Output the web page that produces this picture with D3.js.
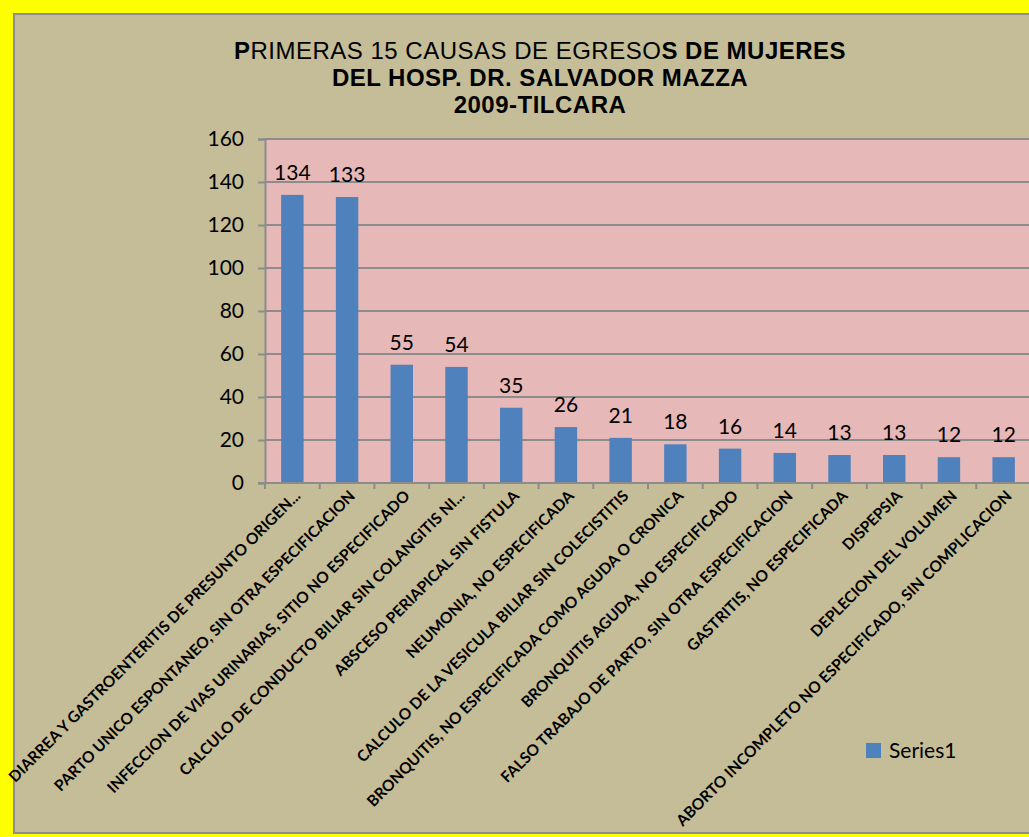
<!DOCTYPE html>
<html lang="es">
<head>
<meta charset="UTF-8">
<script src="https://d3js.org/d3.v7.min.js"></script>
<title>Primeras 15 causas de egresos de mujeres</title>
<style>
  body { margin: 0; }
  svg { display: block; }
</style>
</head>
<body>
<svg width="1029" height="837"></svg>
<script>
const causas = [
  "DIARREA Y GASTROENTERITIS DE PRESUNTO ORIGEN...",
  "PARTO UNICO ESPONTANEO, SIN OTRA ESPECIFICACION",
  "INFECCION DE VIAS URINARIAS, SITIO NO ESPECIFICADO",
  "CALCULO DE CONDUCTO BILIAR SIN COLANGITIS NI...",
  "ABSCESO PERIAPICAL SIN FISTULA",
  "NEUMONIA, NO ESPECIFICADA",
  "CALCULO DE LA VESICULA BILIAR SIN COLECISTITIS",
  "BRONQUITIS, NO ESPECIFICADA COMO AGUDA O CRONICA",
  "BRONQUITIS AGUDA, NO ESPECIFICADO",
  "FALSO TRABAJO DE PARTO, SIN OTRA ESPECIFICACION",
  "GASTRITIS, NO ESPECIFICADA",
  "DISPEPSIA",
  "DEPLECION DEL VOLUMEN",
  "ABORTO INCOMPLETO NO ESPECIFICADO, SIN COMPLICACION"
]
const egresos = [134, 133, 55, 54, 35, 26, 21, 18, 16, 14, 13, 13, 12, 12]
const yTicks = [0, 20, 40, 60, 80, 100, 120, 140, 160]
const serieNombre = "Series1"

const svg = d3.select("svg")
const plot = { left: 265, right: 1031, top: 139, bottom: 483 }

// marco amarillo y fondo
svg.append("rect").attr("width", 1029).attr("height", 837).attr("fill", "#ffff00")
svg.append("rect")
  .attr("x", 14).attr("y", 14).attr("width", 1040).attr("height", 819)
  .attr("fill", "#c4bd97").attr("stroke", "#8c8c8c").attr("stroke-width", 2)

// titulo
const title = svg.append("text")
  .attr("x", 540).attr("text-anchor", "middle")
  .attr("font-family", "Liberation Sans, Arial, sans-serif")
  .attr("font-size", 24).attr("letter-spacing", 0.5).attr("fill", "#000")
const l1 = title.append("tspan").attr("x", 540).attr("y", 59)
l1.append("tspan").attr("font-weight", "bold").text("P")
l1.append("tspan").text("RIMERAS 15 CAUSAS DE EGRESO")
l1.append("tspan").attr("font-weight", "bold").text("S DE MUJERES")
title.append("tspan").attr("x", 540).attr("y", 86).attr("font-weight", "bold").text("DEL HOSP. DR. SALVADOR MAZZA")
title.append("tspan").attr("x", 540).attr("y", 113).attr("font-weight", "bold").text("2009-TILCARA")

const x = d3.scaleBand().domain(causas).range([plot.left, plot.right]).padding(0)
const y = d3.scaleLinear().domain([0, 160]).range([plot.bottom, plot.top])

// area del grafico
svg.append("rect")
  .attr("x", plot.left).attr("y", plot.top)
  .attr("width", plot.right - plot.left + 10).attr("height", plot.bottom - plot.top)
  .attr("fill", "#e6b9b8")

// grilla
svg.append("g").selectAll("line").data(yTicks.filter(d => d > 0)).join("line")
  .attr("x1", plot.left).attr("x2", 1029)
  .attr("y1", d => y(d)).attr("y2", d => y(d))
  .attr("stroke", "#8c8c8c").attr("stroke-width", 2)

// eje Y
const yAxis = svg.append("g")
  .attr("transform", `translate(${plot.left},0)`)
  .call(d3.axisLeft(y).tickValues(yTicks).tickSize(7).tickPadding(14))
yAxis.select(".domain").attr("stroke", "#8c8c8c").attr("stroke-width", 2)
yAxis.selectAll(".tick line").attr("stroke", "#8c8c8c").attr("stroke-width", 2)
yAxis.selectAll("text")
  .attr("font-family", "Lato, sans-serif").attr("font-size", 21).attr("fill", "#000")

// barras
const bw = x.bandwidth() * 0.41
svg.append("g").selectAll("rect").data(egresos).join("rect")
  .attr("x", (d, i) => x(causas[i]) + (x.bandwidth() - bw) / 2)
  .attr("y", d => y(d))
  .attr("width", bw)
  .attr("height", d => y(0) - y(d))
  .attr("fill", "#4f81bd")

// etiquetas de valores
svg.append("g").selectAll("text").data(egresos).join("text")
  .attr("x", (d, i) => x(causas[i]) + x.bandwidth() / 2)
  .attr("y", d => y(d) - 15)
  .attr("text-anchor", "middle")
  .attr("font-family", "Lato, sans-serif").attr("font-size", 21).attr("fill", "#000")
  .text(d => d)

// eje X
const ticksX = causas.map(c => x(c)).concat([plot.right])
svg.append("line")
  .attr("x1", plot.left - 7).attr("x2", 1029)
  .attr("y1", plot.bottom).attr("y2", plot.bottom)
  .attr("stroke", "#8c8c8c").attr("stroke-width", 2)
svg.append("g").selectAll("line").data(ticksX).join("line")
  .attr("x1", d => d).attr("x2", d => d)
  .attr("y1", plot.bottom).attr("y2", plot.bottom + 6)
  .attr("stroke", "#8c8c8c").attr("stroke-width", 2)

svg.append("g").selectAll("text").data(causas).join("text")
  .attr("transform", d => `translate(${x(d) + x.bandwidth() / 2 + 9},${plot.bottom + 14}) rotate(-45)`)
  .attr("text-anchor", "end")
  .attr("font-family", "Lato, sans-serif").attr("font-weight", "bold")
  .attr("font-size", 15.5).attr("fill", "#000")
  .text(d => d)

// leyenda
const legend = svg.append("g").attr("transform", "translate(866,743)")
legend.append("rect").attr("width", 15).attr("height", 15).attr("fill", "#4f81bd")
legend.append("text").attr("x", 23).attr("y", 15)
  .attr("font-family", "Lato, sans-serif").attr("font-size", 21).attr("fill", "#000")
  .text(serieNombre)
</script>
</body>
</html>
